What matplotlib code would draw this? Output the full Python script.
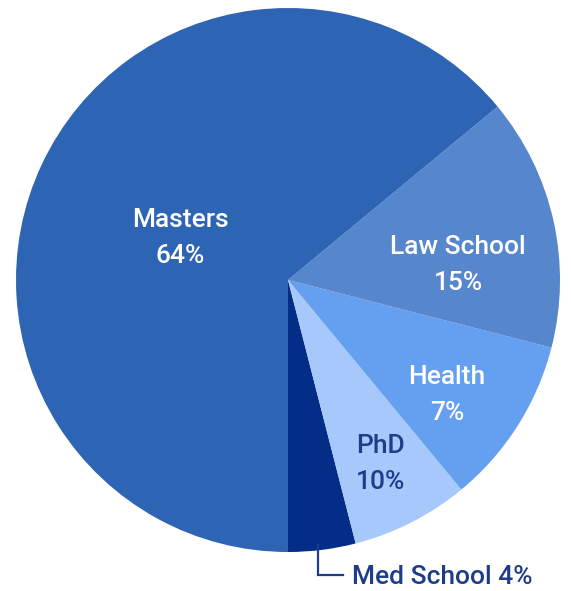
import matplotlib.pyplot as plt
import numpy as np

# wedge shares as drawn (counterclockwise from straight down)
categories = ["Med School", "PhD", "Health", "Law School", "Masters"]
shares = [4, 7, 10, 15, 64]
# percent texts as printed on the chart
label_pcts = ["4%", "10%", "7%", "15%", "64%"]
colors = ["#032d87", "#a6c8fa", "#659ff0", "#5686cc", "#2d64b3"]

W, H = 571, 591
fig = plt.figure(figsize=(W / 100, H / 100), dpi=100)
ax = fig.add_axes([0, 0, 1, 1])

cx, cy, rad = 288, H - 280, 272
ax.pie(shares, colors=colors, startangle=270, counterclock=True,
       center=(cx, cy), radius=rad, frame=True,
       wedgeprops=dict(linewidth=0))
ax.set_xlim(0, W)
ax.set_ylim(0, H)
ax.set_aspect("equal")
ax.axis("off")

fam = "Roboto"
navy = "#1f3c8a"

# label anchor points in pixel space (top-left origin)
label_pos = {"Masters": (180, 238), "Law School": (458, 265),
             "Health": (447, 395), "PhD": (381, 464)}
label_col = {"Masters": "white", "Law School": "white",
             "Health": "white", "PhD": navy}

for name, pct in zip(categories, label_pcts):
    if name in label_pos:
        x, y = label_pos[name]
        ax.text(x, H - y, name + "\n" + pct, color=label_col[name],
                family=fam, fontsize=19, fontweight="medium",
                ha="center", va="center", linespacing=1.68)

# Med School callout
ax.plot([318, 318, 343], [H - 545, H - 575, H - 575], color=navy, lw=1.6,
        solid_joinstyle="miter")
ax.text(352, H - 577, categories[0] + " " + label_pcts[0], color=navy,
        family=fam, fontsize=19, fontweight="medium", ha="left", va="center")

fig.savefig("out.png", dpi=100)
